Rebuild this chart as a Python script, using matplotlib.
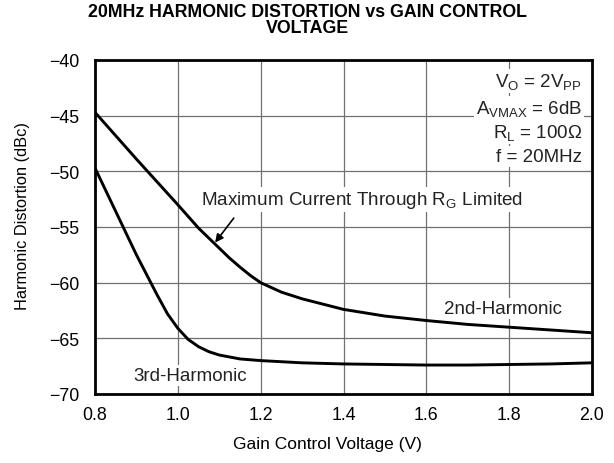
import matplotlib
matplotlib.use("Agg")
import matplotlib.pyplot as plt
import numpy as np

plt.rcParams['font.family'] = ['Liberation Sans', 'DejaVu Sans']
plt.rcParams['mathtext.fontset'] = 'custom'
plt.rcParams['mathtext.rm'] = 'Liberation Sans'
plt.rcParams['mathtext.it'] = 'Liberation Sans:italic'
plt.rcParams['mathtext.bf'] = 'Liberation Sans:bold'

# Data
x2 = [0.8, 0.9, 1.0, 1.05, 1.1, 1.125, 1.15, 1.175, 1.2, 1.25, 1.3, 1.4, 1.5, 1.6, 1.7, 1.8, 1.9, 2.0]
h2 = [-44.7, -48.9, -53.0, -55.1, -56.9, -57.8, -58.6, -59.35, -60.0, -60.85, -61.45, -62.4, -63.0, -63.4, -63.75, -64.0, -64.25, -64.5]

x3 = [0.8, 0.85, 0.9, 0.95, 0.975, 1.0, 1.025, 1.05, 1.075, 1.1, 1.15, 1.2, 1.3, 1.4, 1.5, 1.6, 1.7, 1.8, 1.9, 2.0]
h3 = [-49.7, -53.6, -57.5, -61.1, -62.8, -64.1, -65.1, -65.75, -66.2, -66.5, -66.85, -67.0, -67.2, -67.3, -67.35, -67.4, -67.4, -67.35, -67.3, -67.2]

xticks = [0.8, 1.0, 1.2, 1.4, 1.6, 1.8, 2.0]
yticks = [-70, -65, -60, -55, -50, -45, -40]

cond_lines = [r'V$_{\mathregular{O}}$ = 2V$_{\mathregular{PP}}$',
              r'A$_{\mathregular{VMAX}}$ = 6dB',
              r'R$_{\mathregular{L}}$ = 100Ω',
              'f = 20MHz']
cond_y = [-41.9, -44.3, -46.5, -48.7]

fig = plt.figure(figsize=(6.14, 4.64), dpi=100)
ax = fig.add_axes([95/614, 69/464, (592-95)/614, (395-61)/464])

ax.set_xlim(0.8, 2.0)
ax.set_ylim(-70, -40)
ax.set_xticks(xticks)
ax.set_xticklabels([f'{t:.1f}' for t in xticks])
ax.set_yticks(yticks)
ax.tick_params(length=0, labelsize=12.8)
ax.tick_params(axis='y', pad=11)
ax.tick_params(axis='x', pad=9)
ax.grid(True, color='#707070', linewidth=0.9, zorder=0)
ax.set_axisbelow(True)
for s in ax.spines.values():
    s.set_linewidth(2.0)
    s.set_color('black')
    s.set_zorder(5)

ax.plot(x2, h2, color='black', linewidth=2.1, zorder=3)
ax.plot(x3, h3, color='black', linewidth=2.1, zorder=3)

ax.set_xlabel('Gain Control Voltage (V)', fontsize=12.5, labelpad=7)
ax.xaxis.set_label_coords(0.467, -0.125)
ax.set_ylabel('Harmonic Distortion (dBc)', fontsize=11.8)
ax.yaxis.set_label_coords(-0.13, 0.536)

fig.text(0.5, 0.992, '20MHz HARMONIC DISTORTION vs GAIN CONTROL\nVOLTAGE',
         ha='center', va='top', fontsize=12.8, fontweight='bold', linespacing=0.95)

wb = dict(facecolor='white', edgecolor='none', pad=1.5)
for txt, yy in zip(cond_lines, cond_y):
    ax.text(1.976, yy, txt, ha='right', va='center', fontsize=13.5, color='#222222',
            bbox=wb, zorder=4)

ax.text(1.056, -52.5, r'Maximum Current Through R$_{\mathregular{G}}$ Limited',
        ha='left', va='center', fontsize=13.6, color='#222222', bbox=wb, zorder=4)
ax.annotate('', xy=(1.09, -56.4), xytext=(1.135, -54.2),
            arrowprops=dict(arrowstyle='-|>', color='black', lw=1.2,
                            mutation_scale=12, shrinkA=0, shrinkB=0), zorder=4)
ax.text(1.786, -62.3, '2nd-Harmonic', ha='center', va='center', fontsize=13.5,
        color='#222222', bbox=wb, zorder=4)
ax.text(1.03, -68.3, '3rd-Harmonic', ha='center', va='center', fontsize=13.5,
        color='#222222', bbox=wb, zorder=4)

fig.savefig('out.png', dpi=100)
